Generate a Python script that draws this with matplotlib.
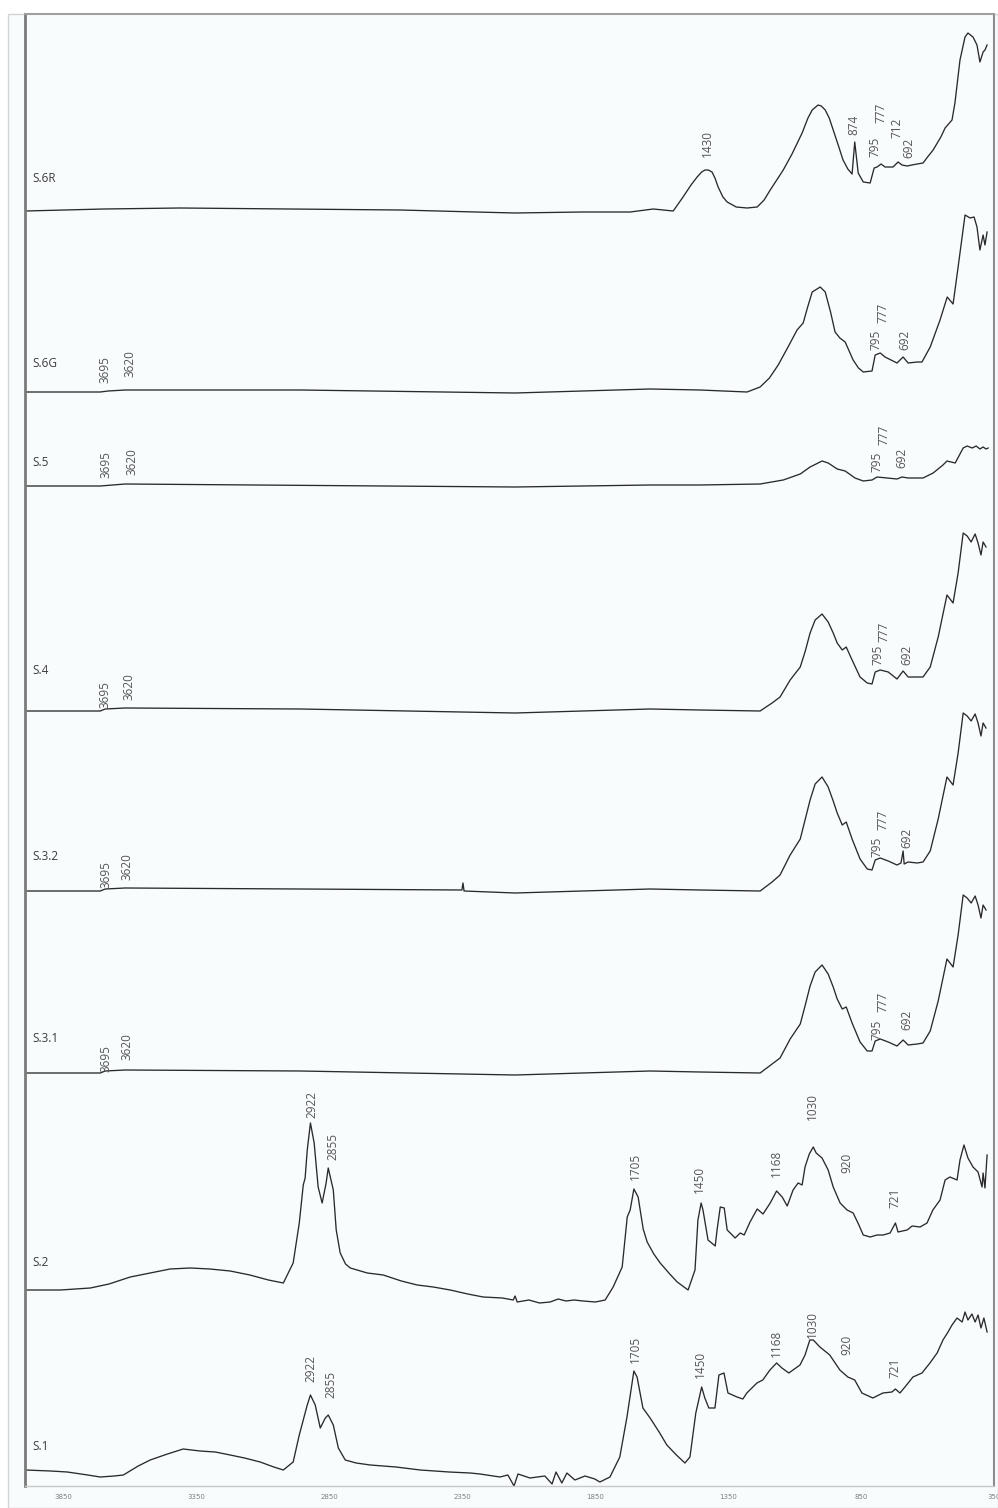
import numpy as np
import matplotlib.pyplot as plt
from matplotlib.patches import Rectangle

# FTIR spectra, wavenumber (cm-1) and relative absorbance for each sample
s6r_wn = [3995, 3700, 3412, 3000, 2584, 2300, 2152, 1900, 1719, 1632, 1557, 1520, 1490, 1467, 1450,
          1437, 1425, 1411, 1400, 1388, 1370, 1354, 1320, 1279, 1241, 1215, 1192, 1143, 1110, 1072,
          1050, 1034, 1012, 1000, 985, 970, 955, 935, 918, 900, 884, 874, 861, 842, 816, 801, 790,
          775, 760, 730, 711, 696, 677, 659, 639, 617, 600, 579, 550, 534, 508, 497, 478, 459, 448,
          429, 414, 403, 391, 384, 376]
s6r_ab = [0.00, 0.02, 0.03, 0.02, 0.01, -0.01, -0.02, -0.01, -0.01, 0.02, 0.00, 0.14, 0.26, 0.34,
          0.39, 0.41, 0.41, 0.39, 0.33, 0.24, 0.14, 0.09, 0.04, 0.03, 0.04, 0.11, 0.21, 0.41, 0.57,
          0.78, 0.93, 1.01, 1.06, 1.05, 1.01, 0.93, 0.81, 0.65, 0.51, 0.42, 0.37, 0.69, 0.38, 0.29,
          0.28, 0.43, 0.44, 0.47, 0.44, 0.44, 0.49, 0.46, 0.45, 0.46, 0.47, 0.48, 0.54, 0.61, 0.74,
          0.83, 0.91, 1.08, 1.51, 1.74, 1.78, 1.74, 1.66, 1.49, 1.59, 1.61, 1.66]

s6g_wn = [3995, 3713, 3683, 3619, 2960, 2152, 1644, 1456, 1279, 1230, 1195, 1162, 1125, 1091, 1068,
          1050, 1034, 1004, 985, 965, 948, 930, 910, 880, 860, 842, 809, 797, 778, 760, 715, 692,
          673, 639, 621, 590, 553, 526, 504, 485, 459, 440, 425, 414, 403, 391, 384, 376]
s6g_ab = [0.00, 0.00, 0.01, 0.02, 0.02, -0.01, 0.03, 0.02, 0.00, 0.05, 0.14, 0.27, 0.45, 0.62, 0.69,
          0.86, 1.00, 1.05, 1.00, 0.80, 0.60, 0.54, 0.50, 0.32, 0.24, 0.20, 0.21, 0.37, 0.39, 0.35,
          0.29, 0.35, 0.29, 0.30, 0.30, 0.45, 0.72, 0.95, 0.88, 1.25, 1.77, 1.74, 1.75, 1.65, 1.42,
          1.57, 1.47, 1.60]

s5_wn = [3995, 3713, 3619, 2152, 1644, 1456, 1230, 1143, 1079, 1042, 997, 974, 940, 910, 873, 842,
         809, 790, 752, 715, 696, 673, 617, 579, 542, 527, 496, 466, 451, 432, 417, 403, 391, 380, 372]
s5_ab = [0.00, 0.00, 0.02, -0.01, 0.01, 0.01, 0.02, 0.06, 0.12, 0.19, 0.25, 0.23, 0.17, 0.15, 0.08,
         0.05, 0.06, 0.09, 0.08, 0.07, 0.09, 0.08, 0.08, 0.13, 0.21, 0.25, 0.23, 0.38, 0.40, 0.38,
         0.40, 0.37, 0.39, 0.37, 0.38]

s4_wn = [3995, 3713, 3694, 3619, 2960, 2152, 1644, 1456, 1230, 1185, 1155, 1117, 1079, 1060, 1042,
         1023, 997, 974, 955, 940, 921, 906, 884, 854, 827, 809, 797, 778, 748, 715, 692, 673, 639,
         617, 590, 560, 527, 504, 485, 466, 451, 436, 421, 410, 399, 391, 380]
s4_ab = [0.00, 0.00, 0.02, 0.03, 0.02, -0.02, 0.02, 0.01, 0.00, 0.08, 0.14, 0.31, 0.44, 0.60, 0.78,
         0.91, 0.97, 0.89, 0.78, 0.68, 0.61, 0.64, 0.51, 0.34, 0.28, 0.27, 0.39, 0.41, 0.39, 0.32,
         0.40, 0.34, 0.34, 0.34, 0.44, 0.74, 1.16, 1.08, 1.38, 1.78, 1.75, 1.69, 1.77, 1.68, 1.56,
         1.69, 1.64]

s32_wn = [3995, 3713, 3694, 3619, 2960, 2352, 2348, 2344, 2152, 1644, 1456, 1230, 1185, 1155, 1117,
          1079, 1060, 1042, 1023, 997, 974, 955, 940, 921, 906, 884, 854, 827, 809, 797, 778, 748,
          715, 700, 692, 688, 673, 639, 617, 590, 560, 527, 504, 485, 466, 451, 436, 421, 410, 399,
          391, 380]
s32_ab = [0.00, 0.00, 0.02, 0.03, 0.02, 0.01, 0.08, 0.00, -0.02, 0.02, 0.01, 0.00, 0.09, 0.16, 0.36,
          0.52, 0.72, 0.91, 1.07, 1.14, 1.04, 0.90, 0.78, 0.66, 0.69, 0.52, 0.32, 0.22, 0.21, 0.31,
          0.33, 0.30, 0.26, 0.28, 0.40, 0.27, 0.29, 0.28, 0.29, 0.40, 0.72, 1.14, 1.06, 1.38, 1.78,
          1.75, 1.70, 1.77, 1.68, 1.55, 1.68, 1.63]

s31_wn = [3995, 3713, 3694, 3619, 2960, 2152, 1644, 1456, 1230, 1185, 1155, 1117, 1079, 1060, 1042,
          1023, 997, 974, 955, 940, 921, 906, 884, 854, 827, 809, 797, 778, 748, 715, 692, 673, 639,
          617, 590, 560, 527, 504, 485, 466, 451, 436, 421, 410, 399, 391, 380]
s31_ab = [0.00, 0.00, 0.02, 0.03, 0.02, -0.02, 0.02, 0.01, 0.00, 0.09, 0.15, 0.34, 0.49, 0.68, 0.87,
          1.01, 1.08, 0.99, 0.86, 0.74, 0.64, 0.66, 0.50, 0.31, 0.22, 0.22, 0.32, 0.34, 0.31, 0.27,
          0.33, 0.28, 0.29, 0.30, 0.42, 0.72, 1.14, 1.06, 1.38, 1.78, 1.75, 1.70, 1.77, 1.68, 1.55,
          1.68, 1.63]

s2_wn = [3995, 3863, 3750, 3680, 3600, 3525, 3450, 3374, 3300, 3224, 3150, 3080, 3024, 2987, 2964,
         2949, 2942, 2934, 2922, 2908, 2893, 2878, 2863, 2855, 2836, 2825, 2810, 2790, 2772, 2708,
         2648, 2580, 2520, 2460, 2396, 2330, 2272, 2200, 2159, 2152, 2144, 2100, 2060, 2020, 1990,
         1960, 1930, 1896, 1850, 1813, 1783, 1749, 1730, 1719, 1705, 1689, 1670, 1655, 1630, 1606,
         1570, 1542, 1501, 1475, 1464, 1452, 1445, 1426, 1399, 1392, 1380, 1365, 1354, 1335, 1324,
         1305, 1290, 1268, 1241, 1219, 1192, 1168, 1147, 1128, 1106, 1087, 1072, 1061, 1045, 1030,
         1019, 997, 974, 955, 929, 903, 880, 860, 842, 816, 790, 767, 741, 721, 711, 677, 658, 628,
         602, 580, 553, 534, 516, 489, 478, 463, 448, 429, 410, 395, 391, 384, 376]
s2_ab = [0.00, 0.00, 0.02, 0.06, 0.13, 0.17, 0.21, 0.22, 0.21, 0.19, 0.15, 0.10, 0.07, 0.27, 0.67,
         1.05, 1.12, 1.40, 1.67, 1.47, 1.03, 0.87, 1.07, 1.22, 1.00, 0.60, 0.37, 0.26, 0.22, 0.17,
         0.15, 0.09, 0.05, 0.03, 0.00, -0.04, -0.07, -0.08, -0.10, -0.06, -0.12, -0.10, -0.13, -0.12,
         -0.09, -0.11, -0.10, -0.11, -0.12, -0.10, 0.03, 0.23, 0.73, 0.80, 1.01, 0.93, 0.61, 0.48,
         0.36, 0.27, 0.16, 0.08, 0.00, 0.20, 0.70, 0.87, 0.80, 0.50, 0.44, 0.60, 0.83, 0.82, 0.60,
         0.55, 0.52, 0.57, 0.55, 0.68, 0.81, 0.76, 0.87, 0.99, 0.93, 0.84, 1.00, 1.07, 1.05, 1.23,
         1.36, 1.43, 1.37, 1.32, 1.20, 1.03, 0.87, 0.80, 0.77, 0.66, 0.55, 0.53, 0.55, 0.55, 0.57,
         0.67, 0.58, 0.60, 0.64, 0.63, 0.67, 0.80, 0.90, 1.10, 1.13, 1.10, 1.30, 1.45, 1.32, 1.23,
         1.18, 1.03, 1.17, 1.02, 1.35]

s1_wn = [3995, 3900, 3837, 3760, 3713, 3660, 3626, 3570, 3525, 3460, 3401, 3337, 3280, 3224, 3170,
         3111, 3060, 3024, 2987, 2964, 2949, 2934, 2922, 2904, 2885, 2866, 2855, 2836, 2817, 2791,
         2750, 2697, 2600, 2509, 2400, 2321, 2284, 2209, 2179, 2156, 2141, 2096, 2040, 2013, 1998,
         1976, 1957, 1927, 1889, 1852, 1833, 1795, 1758, 1731, 1705, 1693, 1671, 1644, 1610, 1581,
         1545, 1513, 1494, 1472, 1450, 1438, 1423, 1400, 1385, 1366, 1351, 1317, 1295, 1280, 1242,
         1220, 1193, 1168, 1148, 1122, 1080, 1061, 1043, 1030, 1005, 968, 930, 900, 874, 847, 806,
         768, 734, 721, 704, 685, 655, 621, 591, 564, 542, 523, 508, 489, 470, 459, 448, 433, 421,
         410, 399, 388, 376]
s1_ab = [0.00, -0.01, -0.02, -0.05, -0.07, -0.06, -0.05, 0.04, 0.10, 0.16, 0.21, 0.19, 0.18, 0.15,
         0.12, 0.08, 0.03, 0.00, 0.08, 0.35, 0.50, 0.65, 0.75, 0.65, 0.42, 0.52, 0.55, 0.45, 0.22,
         0.10, 0.07, 0.05, 0.03, 0.00, -0.02, -0.03, -0.04, -0.07, -0.05, -0.16, -0.04, -0.08, -0.06,
         -0.14, -0.02, -0.13, -0.03, -0.10, -0.06, -0.09, -0.12, -0.07, 0.13, 0.53, 0.99, 0.93, 0.62,
         0.52, 0.38, 0.25, 0.15, 0.07, 0.13, 0.57, 0.83, 0.72, 0.62, 0.62, 0.95, 0.97, 0.77, 0.73,
         0.71, 0.77, 0.87, 0.90, 1.00, 1.07, 1.02, 0.97, 1.05, 1.15, 1.30, 1.30, 1.23, 1.15, 1.00,
         0.93, 0.90, 0.77, 0.72, 0.77, 0.78, 0.81, 0.77, 0.83, 0.93, 0.97, 1.07, 1.17, 1.30, 1.38,
         1.45, 1.52, 1.48, 1.58, 1.50, 1.56, 1.48, 1.55, 1.42, 1.52, 1.38]

samples = ["S.6R", "S.6G", "S.5", "S.4", "S.3.2", "S.3.1", "S.2", "S.1"]
spectra = [(s6r_wn, s6r_ab), (s6g_wn, s6g_ab), (s5_wn, s5_ab), (s4_wn, s4_ab),
           (s32_wn, s32_ab), (s31_wn, s31_ab), (s2_wn, s2_ab), (s1_wn, s1_ab)]

# peak labels per sample: (text, label x in cm-1, height of label start above the baseline)
peaks = {
    "S.6R": [("1430", 1430, 0.54), ("874", 878, 0.76), ("795", 798, 0.54), ("777", 775, 0.88),
             ("712", 715, 0.73), ("692", 670, 0.53)],
    "S.6G": [("3695", 3695, 0.09), ("3620", 3600, 0.15), ("795", 795, 0.42), ("777", 768, 0.69),
             ("692", 685, 0.42)],
    "S.5": [("3695", 3690, 0.08), ("3620", 3595, 0.11), ("795", 790, 0.14), ("777", 764, 0.41),
            ("692", 696, 0.18)],
    "S.4": [("3695", 3695, 0.03), ("3620", 3605, 0.11), ("795", 787, 0.46), ("777", 764, 0.69),
            ("692", 678, 0.46)],
    "S.3.2": [("3695", 3690, 0.03), ("3620", 3612, 0.11), ("795", 790, 0.34), ("777", 768, 0.61),
              ("692", 678, 0.43)],
    "S.3.1": [("3695", 3690, 0.01), ("3620", 3612, 0.13), ("795", 790, 0.33), ("777", 768, 0.61),
              ("692", 678, 0.43)],
    "S.2": [("2922", 2916, 1.72), ("2855", 2837, 1.30), ("1705", 1701, 1.10), ("1450", 1460, 0.97),
            ("1168", 1167, 1.13), ("1030", 1035, 1.70), ("920", 904, 1.17), ("721", 723, 0.82)],
    "S.1": [("2922", 2920, 0.88), ("2855", 2845, 0.72), ("1705", 1701, 1.07), ("1450", 1456, 0.92),
            ("1168", 1170, 1.13), ("1030", 1035, 1.32), ("920", 904, 1.15), ("721", 723, 0.92)],
}

xticks = [3850, 3350, 2850, 2350, 1850, 1350, 850, 350]

# vertical stacking
offsets = [12.75, 10.94, 10.00, 7.75, 5.95, 4.13, 1.96, 0.16]
name_y = [0.33, 0.29, 0.23, 0.40, 0.34, 0.35, 0.27, 0.23]

fig = plt.figure(figsize=(9.98, 15.08), dpi=100)
fig.patch.set_facecolor("white")
frame = Rectangle((8 / 998, 0), 990 / 998, 1494 / 1508, transform=fig.transFigure,
                  facecolor="#f8fcfd", edgecolor="#d4d4d4", lw=1.0, zorder=-5)
fig.patches.append(frame)

ax = fig.add_axes([25 / 998, 22 / 1508, 969 / 998, 1472 / 1508])
ax.set_zorder(2)
ax.set_facecolor("#f8fcfd")

for name, (wn, ab), off, ny in zip(samples, spectra, offsets, name_y):
    ax.plot(wn, np.array(ab) + off, color="#2a2a2a", lw=0.95)
    ax.text(3968, off + ny, name, fontsize=8.5, color="#3c3c3c", va="center", ha="left",
            family="Open Sans")
    for txt, lx, h in peaks[name]:
        ax.text(lx, off + h, txt, rotation=90, fontsize=8.5, color="#555555",
                ha="center", va="bottom", family="Open Sans")

ax.set_xlim(3996, 350)
ax.set_ylim(0, 14.72)
ax.set_xticks(xticks)
ax.set_xticklabels([str(t) for t in xticks])
ax.set_yticks([])
ax.tick_params(axis="x", length=0, pad=6, labelsize=5, labelcolor="#808080")

ax.spines["left"].set_color("#7a7a7a")
ax.spines["left"].set_linewidth(2.0)
ax.spines["top"].set_color("#a0a0a0")
ax.spines["top"].set_linewidth(1.5)
ax.spines["right"].set_color("#8c8c8c")
ax.spines["right"].set_linewidth(1.5)
ax.spines["bottom"].set_color("#c8c8c8")
ax.spines["bottom"].set_linewidth(1.0)

plt.savefig("out.png", dpi=100)
